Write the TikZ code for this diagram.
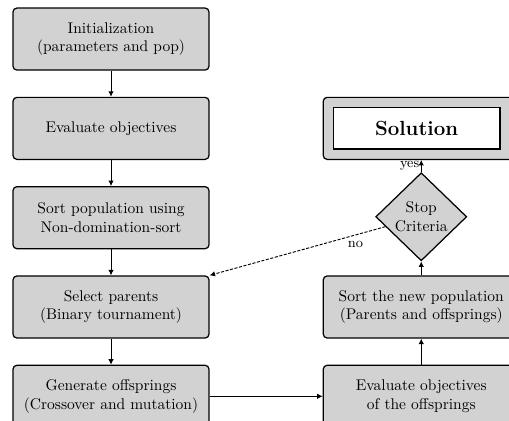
\documentclass[tikz,border=0pt]{standalone}
\usepackage{tikz}
\usetikzlibrary{positioning, shapes.geometric, arrows.meta}

\begin{document}
\begin{tikzpicture}[
    stepbox/.style={draw, thick, rounded corners=2.5pt, fill=gray!35, align=center,
        minimum width=126.4pt, minimum height=40pt, inner sep=2pt},
    decision/.style={draw, thick, diamond, fill=gray!35, align=center, inner sep=0pt,
        minimum width=58.7pt, minimum height=56.8pt},
    flow/.style={semithick, -{Latex[length=3.5pt,width=3.5pt]}},
    tag/.style={font=\small, inner sep=1pt}
]
    \useasboundingbox (-71.6pt,25.2pt) rectangle (256.7pt,-245.7pt);
    \node[stepbox] (init) at (0,0) {Initialization\\(parameters and pop)};
    \node[stepbox, below=16.8pt of init] (eval) {Evaluate objectives};
    \node[stepbox, below=16.8pt of eval] (sort) {Sort population using\\Non-domination-sort};
    \node[stepbox, below=16.8pt of sort] (select) {Select parents\\(Binary tournament)};
    \node[stepbox, below=16.8pt of select] (gen) {Generate offsprings\\(Crossover and mutation)};
    \node[stepbox, right=72.9pt of gen] (evaloff) {Evaluate objectives\\of the offsprings};
    \node[stepbox, right=72.9pt of select] (newsort) {Sort the new population\\(Parents and offsprings)};
    \node[decision, above=9pt of newsort] (stop) {Stop\\Criteria};
    \node[stepbox, right=72.9pt of eval] (sol) {};
    \node[draw, thick, fill=white, minimum width=107.5pt, minimum height=26.5pt] (soltext)
        at ([xshift=-3pt]sol.center) {\fontsize{13.2pt}{16pt}\selectfont\bfseries Solution};
    \draw[flow] (init) -- (eval);
    \draw[flow] (eval) -- (sort);
    \draw[flow] (sort) -- (select);
    \draw[flow] (select) -- (gen);
    \draw[flow] (gen) -- (evaloff);
    \draw[flow] (evaloff) -- (newsort);
    \draw[flow] (newsort) -- (stop);
    \draw[flow] (stop) -- node[tag, left] {yes} (sol);
    \draw[flow, dash pattern=on 2pt off 1pt] (stop) -- node[tag, pos=0.17, below=3pt] {no} (select.north east);
\end{tikzpicture}
\end{document}
